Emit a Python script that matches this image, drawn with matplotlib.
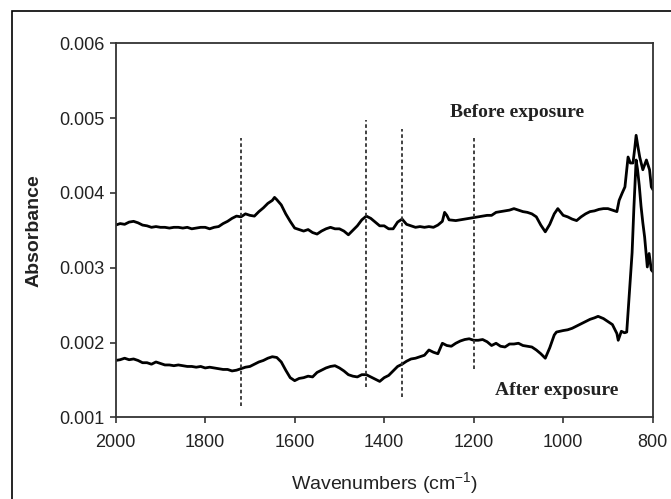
import matplotlib
matplotlib.use("Agg")
import matplotlib.pyplot as plt
from matplotlib.patches import Rectangle

plt.rcParams["mathtext.fontset"] = "custom"
plt.rcParams["mathtext.rm"] = "Liberation Sans"
plt.rcParams["mathtext.default"] = "regular"
plt.rcParams["axes.unicode_minus"] = False

# ---- data ----
before_wn = [2000, 1990, 1980, 1970, 1960, 1950, 1940, 1930, 1920, 1910, 1900, 1890, 1880, 1870,
             1860, 1850, 1840, 1830, 1820, 1810, 1800, 1790, 1780, 1770, 1760, 1750, 1740, 1730,
             1720, 1710, 1700, 1690, 1680, 1670, 1660, 1650, 1645, 1640, 1630, 1620, 1610, 1600,
             1590, 1580, 1570, 1560, 1550, 1540, 1530, 1520, 1510, 1500, 1490, 1480, 1470, 1460,
             1450, 1440, 1430, 1420, 1410, 1400, 1390, 1380, 1370, 1360, 1350, 1340, 1330, 1320,
             1310, 1300, 1290, 1280, 1270, 1265, 1260, 1255, 1240, 1230, 1220, 1210, 1200, 1190,
             1180, 1170, 1160, 1150, 1140, 1130, 1120, 1110, 1100, 1090, 1080, 1070, 1060, 1050,
             1040, 1030, 1020, 1012, 1000, 990, 980, 970, 960, 950, 940, 930, 920, 910, 900, 890,
             880, 875, 868, 862, 855, 850, 844, 840, 837, 833, 829, 822, 814, 807, 803, 800]
before_abs = [0.00357, 0.00359, 0.00358, 0.00361, 0.00362, 0.00360, 0.00357, 0.00356, 0.00354,
              0.00355, 0.00354, 0.00354, 0.00353, 0.00354, 0.00354, 0.00353, 0.00354, 0.00352,
              0.00353, 0.00354, 0.00354, 0.00352, 0.00354, 0.00355, 0.00359, 0.00362, 0.00366,
              0.00369, 0.00368, 0.00372, 0.00370, 0.00369, 0.00375, 0.00380, 0.00386, 0.00390,
              0.00394, 0.00391, 0.00384, 0.00372, 0.00362, 0.00353, 0.00351, 0.00349, 0.00351,
              0.00347, 0.00345, 0.00349, 0.00352, 0.00354, 0.00352, 0.00352, 0.00349, 0.00344,
              0.00350, 0.00356, 0.00364, 0.00369, 0.00366, 0.00361, 0.00356, 0.00356, 0.00352,
              0.00352, 0.00361, 0.00365, 0.00358, 0.00356, 0.00354, 0.00355, 0.00354, 0.00355,
              0.00354, 0.00357, 0.00362, 0.00374, 0.00370, 0.00364, 0.00363, 0.00364, 0.00365,
              0.00366, 0.00367, 0.00368, 0.00369, 0.00370, 0.00370, 0.00374, 0.00375, 0.00376,
              0.00377, 0.00379, 0.00377, 0.00375, 0.00374, 0.00372, 0.00368, 0.00357, 0.00348,
              0.00358, 0.00372, 0.00379, 0.00370, 0.00368, 0.00365, 0.00363, 0.00368, 0.00372,
              0.00375, 0.00376, 0.00378, 0.00379, 0.00379, 0.00377, 0.00375, 0.00390, 0.00400,
              0.00408, 0.00448, 0.00440, 0.00440, 0.00460, 0.00477, 0.00462, 0.00448, 0.00431,
              0.00444, 0.00431, 0.00408, 0.00405]

after_wn = [2000, 1990, 1980, 1970, 1960, 1950, 1940, 1930, 1920, 1910, 1900, 1890, 1880, 1870,
            1860, 1850, 1840, 1830, 1820, 1810, 1800, 1790, 1780, 1770, 1760, 1750, 1740, 1730,
            1720, 1710, 1700, 1690, 1680, 1670, 1660, 1650, 1640, 1630, 1620, 1610, 1600, 1590,
            1580, 1570, 1560, 1550, 1540, 1530, 1520, 1510, 1500, 1490, 1480, 1470, 1460, 1450,
            1440, 1430, 1420, 1410, 1400, 1390, 1380, 1370, 1360, 1350, 1340, 1330, 1320, 1310,
            1300, 1290, 1280, 1270, 1260, 1250, 1240, 1230, 1220, 1210, 1200, 1190, 1180, 1170,
            1160, 1150, 1140, 1130, 1120, 1110, 1100, 1090, 1080, 1070, 1060, 1050, 1040, 1030,
            1020, 1015, 1000, 990, 980, 970, 960, 950, 940, 930, 922, 910, 900, 890, 880, 877,
            870, 863, 858, 851, 846, 842, 839, 837, 834, 830, 826, 822, 818, 812, 808, 803, 800]
after_abs = [0.00176, 0.00177, 0.00179, 0.00177, 0.00178, 0.00176, 0.00173, 0.00173, 0.00171,
             0.00174, 0.00172, 0.00170, 0.00170, 0.00169, 0.00170, 0.00169, 0.00168, 0.00168,
             0.00167, 0.00168, 0.00166, 0.00167, 0.00166, 0.00165, 0.00164, 0.00164, 0.00162,
             0.00163, 0.00165, 0.00167, 0.00168, 0.00171, 0.00174, 0.00176, 0.00179, 0.00181,
             0.00180, 0.00174, 0.00163, 0.00153, 0.00149, 0.00152, 0.00153, 0.00155, 0.00154,
             0.00160, 0.00163, 0.00166, 0.00168, 0.00169, 0.00166, 0.00162, 0.00157, 0.00155,
             0.00154, 0.00157, 0.00157, 0.00154, 0.00151, 0.00148, 0.00153, 0.00156, 0.00162,
             0.00168, 0.00171, 0.00175, 0.00178, 0.00179, 0.00181, 0.00183, 0.00190, 0.00187,
             0.00185, 0.00199, 0.00196, 0.00195, 0.00199, 0.00202, 0.00204, 0.00205, 0.00203,
             0.00203, 0.00204, 0.00201, 0.00196, 0.00199, 0.00195, 0.00194, 0.00198, 0.00198,
             0.00199, 0.00196, 0.00195, 0.00194, 0.00190, 0.00185, 0.00179, 0.00193, 0.00210,
             0.00214, 0.00216, 0.00217, 0.00219, 0.00222, 0.00225, 0.00228, 0.00231, 0.00233,
             0.00235, 0.00232, 0.00228, 0.00224, 0.00212, 0.00203, 0.00215, 0.00213, 0.00214,
             0.00275, 0.00320, 0.00380, 0.00420, 0.00444, 0.00432, 0.00410, 0.00382, 0.00360,
             0.00341, 0.00301, 0.00319, 0.00297, 0.00295]

marker_wn = [1720, 1440, 1360, 1200]
marker_low = [0.00115, 0.00140, 0.00127, 0.00165]
marker_high = [0.00473, 0.00497, 0.00486, 0.00473]

label_before = "Before exposure"
label_after = "After exposure"
xticks = [2000, 1800, 1600, 1400, 1200, 1000, 800]
yticks = [0.001, 0.002, 0.003, 0.004, 0.005, 0.006]

# ---- figure ----
fig = plt.figure(figsize=(6.71, 4.99), dpi=100)
ax = fig.add_axes([0.1724, 0.1637, 0.8003, 0.7495])

ax.plot(before_wn, before_abs, color="black", lw=2.0, solid_joinstyle="round")
ax.plot(after_wn, after_abs, color="black", lw=2.0, solid_joinstyle="round")

for w, lo, hi in zip(marker_wn, marker_low, marker_high):
    ax.vlines(w, lo, hi, colors="#333333", linestyles=(0, (2.0, 1.5)), lw=1.3)

ax.text(1103, 0.00507, label_before, family="Liberation Serif", weight="bold",
        fontsize=14, ha="center", va="center", color="#222222")
ax.text(1015, 0.001365, label_after, family="Liberation Serif", weight="bold",
        fontsize=14, ha="center", va="center", color="#222222")

ax.set_xlim(2000, 800)
ax.set_ylim(0.001, 0.006)
ax.set_xticks(xticks)
ax.set_yticks(yticks)
ax.set_xticklabels([str(t) for t in xticks])
ax.set_yticklabels([f"{t:.3f}" for t in yticks])
ax.tick_params(direction="out", length=4, width=1.2, labelsize=13, colors="#333333",
               labelcolor="#222222")
ax.tick_params(axis="x", pad=8)
ax.tick_params(axis="y", pad=4)
for t in ax.get_xticklabels() + ax.get_yticklabels():
    t.set_family("Liberation Sans")
for s in ax.spines.values():
    s.set_color("#333333")
    s.set_linewidth(1.3)

ax.set_xlabel("Wavenumbers (cm$^{-1}$)", family="Liberation Sans", fontsize=14,
              color="#222222", labelpad=14)
ax.set_ylabel("Absorbance", family="Liberation Sans", fontsize=14, weight="bold",
              color="#222222", labelpad=12)

fig.patches.append(Rectangle((12 / 671, -0.5), 2.0, 0.978 + 0.5, transform=fig.transFigure,
                             fill=False, edgecolor="black", lw=1.2))

fig.savefig("out.png", dpi=100)
